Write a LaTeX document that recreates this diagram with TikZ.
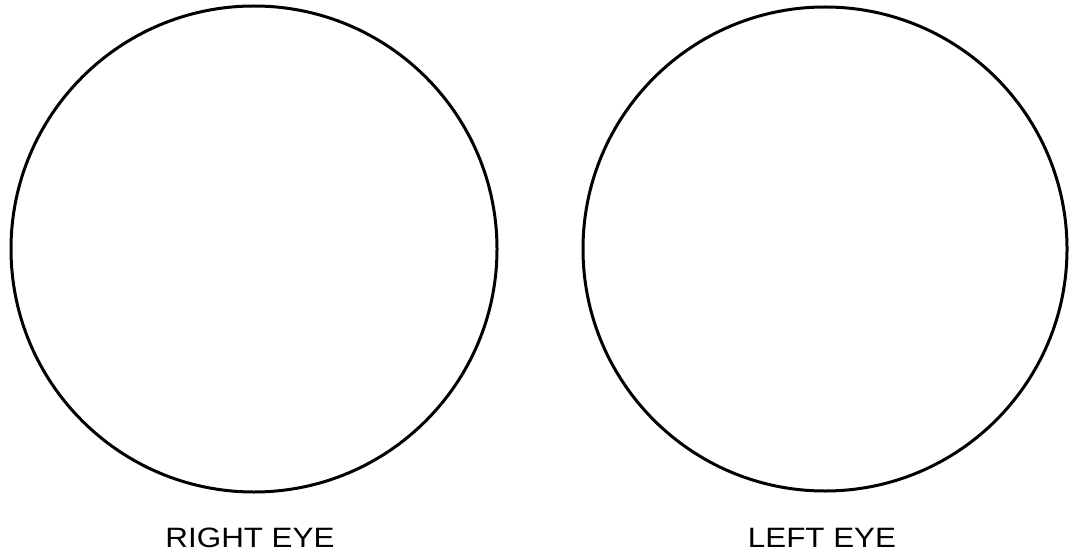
\documentclass[tikz,border=0pt]{standalone}
\usepackage{fontspec}
\setmainfont{Liberation Sans}
\usepackage{tikz}
\usetikzlibrary{positioning}
\tikzstyle{eye} = [circle, draw=black, line width=3pt, minimum size=486pt, inner sep=0pt, outer sep=0pt]
\tikzstyle{eyelabel} = [font=\fontsize{28}{32}\selectfont, inner sep=0pt, anchor=base, xscale=1.12]

\begin{document}
\begin{tikzpicture}[x=1pt, y=-1pt]
    \useasboundingbox (0,0) rectangle (1070,556);
    \node (reye) [eye] at (254,249) {};
    \node (leye) [eye, minimum size=484pt] at (825,249) {};

    \node (rtext) [eyelabel] at (250,547) {RIGHT EYE};
    \node (ltext) [eyelabel] at (822,547) {LEFT EYE};
\end{tikzpicture}
\end{document}
